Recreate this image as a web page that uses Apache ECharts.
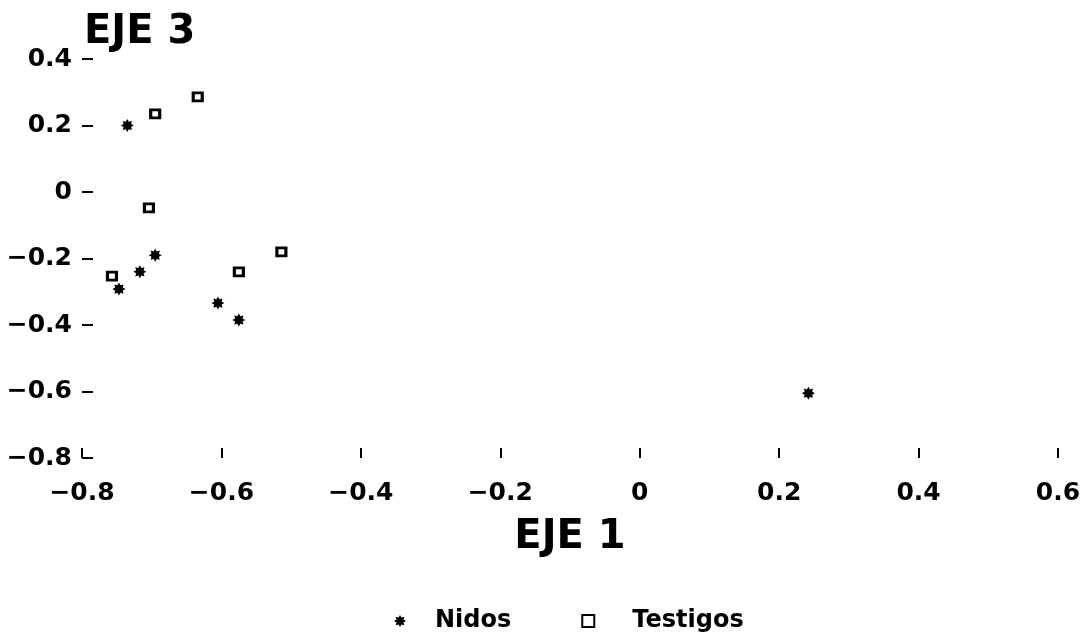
<!DOCTYPE html>
<html>
<head>
<meta charset="utf-8">
<script src="https://cdn.jsdelivr.net/npm/echarts@6/dist/echarts.min.js"></script>
<style>
  html, body { margin: 0; padding: 0; background: #fff; }
  #chart { width: 1085px; height: 638px; }
</style>
</head>
<body>
<div id="chart"></div>
<script>
// Scores on axis 1 (EJE 1) and axis 3 (EJE 3)
const nidosX = [-0.735, -0.695, -0.717, -0.747, -0.605, -0.575, 0.242];
const nidosY = [0.200, -0.190, -0.240, -0.292, -0.334, -0.385, -0.605];
const testigosX = [-0.634, -0.695, -0.704, -0.514, -0.575, -0.757];
const testigosY = [0.286, 0.235, -0.048, -0.180, -0.240, -0.253];

const seriesNames = ['Nidos', 'Testigos'];
const xTitle = 'EJE 1';
const yTitle = 'EJE 3';

const FONT = 'DejaVu Sans';

// Eight-pointed asterisk glyph used as the marker for nests
function asteriskPath() {
  const pts = [];
  const n = 8;
  for (let i = 0; i < n * 2; i++) {
    const r = i % 2 === 0 ? 1 : 0.62;
    const a = (Math.PI * i) / n - Math.PI / 2;
    pts.push((r * Math.cos(a)).toFixed(3) + ' ' + (r * Math.sin(a)).toFixed(3));
  }
  return 'path://M' + pts.join(' L') + ' Z';
}

const pairs = (xs, ys) => xs.map((x, i) => [x, ys[i]]);

const fmt = v => {
  const s = String(Math.round(Math.abs(v) * 10) / 10);
  return v < -1e-9 ? '\u2212' + s : s;
};

const labelStyle = { fontFamily: FONT, fontWeight: 'bold', fontSize: 25, color: '#000' };

const chart = echarts.init(document.getElementById('chart'));
chart.setOption({
  animation: false,
  backgroundColor: '#ffffff',
  title: {
    text: yTitle,
    left: 79,
    top: 8,
    textStyle: { fontFamily: FONT, fontWeight: 'bold', fontSize: 40, color: '#000' }
  },
  grid: { left: 82, right: 27, top: 59, bottom: 180, outerBoundsMode: 'none' },
  xAxis: {
    type: 'value',
    min: -0.8, max: 0.6, interval: 0.2,
    name: xTitle,
    nameLocation: 'middle',
    nameGap: 60,
    nameTextStyle: { fontFamily: FONT, fontWeight: 'bold', fontSize: 40, color: '#000' },
    axisLine: { show: false, onZero: false },
    axisTick: { show: true, inside: true, length: 10, lineStyle: { color: '#000', width: 2 } },
    splitLine: { show: false },
    axisLabel: Object.assign({ formatter: fmt, margin: 23 }, labelStyle)
  },
  yAxis: {
    type: 'value',
    min: -0.8, max: 0.4, interval: 0.2,
    axisLine: { show: false, onZero: false },
    axisTick: { show: true, inside: true, length: 11, lineStyle: { color: '#000', width: 2 } },
    splitLine: { show: false },
    axisLabel: Object.assign({ formatter: fmt, margin: 10, padding: [5, 0, 0, 0] }, labelStyle)
  },
  legend: {
    left: 389,
    top: 604,
    itemGap: 70,
    itemWidth: 12,
    itemHeight: 12,
    textStyle: { fontFamily: FONT, fontWeight: 'bold', fontSize: 24, color: '#000', padding: [0, 0, 0, 24] },
    data: [
      { name: seriesNames[0] },
      { name: seriesNames[1], textStyle: { padding: [0, 0, 0, 33] } }
    ]
  },
  series: [
    {
      name: seriesNames[0],
      type: 'scatter',
      symbol: asteriskPath(),
      symbolSize: 13,
      itemStyle: { color: '#000', opacity: 1 },
      data: pairs(nidosX, nidosY)
    },
    {
      name: seriesNames[1],
      type: 'scatter',
      symbol: 'rect',
      symbolSize: [9, 8],
      itemStyle: { color: '#fff', borderColor: '#000', borderWidth: 3, opacity: 1 },
      data: pairs(testigosX, testigosY)
    }
  ]
});
</script>
</body>
</html>
